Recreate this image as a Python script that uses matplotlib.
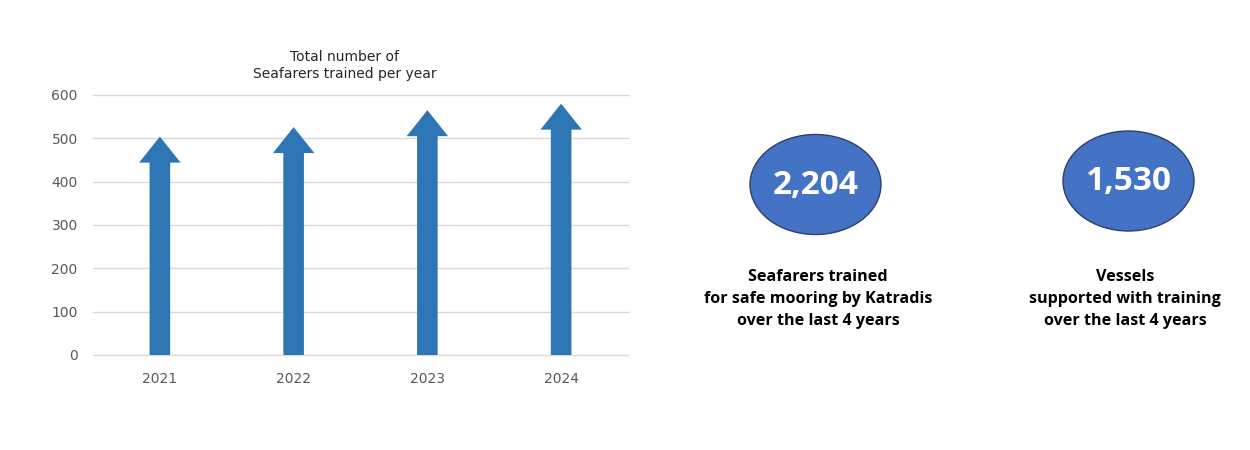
import matplotlib.pyplot as plt
from matplotlib.patches import Ellipse

# data
years = ["2021", "2022", "2023", "2024"]
seafarers = [504, 526, 565, 580]
kpi_values = ["2,204", "1,530"]
kpi_labels = [
    "Seafarers trained\nfor safe mooring by Katradis\nover the last 4 years",
    "Vessels\nsupported with training\nover the last 4 years",
]

W, H = 1250, 450
fig = plt.figure(figsize=(W / 100, H / 100), dpi=100)

# arrow chart
ax = fig.add_axes([93 / W, 95 / H, 535 / W, 260 / H])
ax.set_xlim(-0.5, len(years) - 0.5)
ax.set_ylim(0, 600)
ax.set_yticks(range(0, 601, 100))
ax.set_xticks(range(len(years)))
ax.set_xticklabels(years)
ax.grid(axis="y", color="#d9d9d9", lw=1)
for gl in ax.get_ygridlines():
    gl.set_clip_on(False)
ax.set_axisbelow(True)
for s in ax.spines.values():
    s.set_visible(False)
ax.tick_params(length=0, colors="#595959", labelsize=10)
ax.tick_params(axis="y", pad=11)
ax.tick_params(axis="x", pad=12)

for i, v in enumerate(seafarers):
    ax.arrow(i, 0, 0, v, width=0.154, head_width=0.31, head_length=60,
             length_includes_head=True, color="#2e75b6", lw=0, zorder=3)

ax.set_title("Total number of\nSeafarers trained per year", fontsize=10,
             color="#262626", pad=12, linespacing=1.3, x=0.47)

# KPI bubbles on an overlay in pixel coordinates
ov = fig.add_axes([0, 0, 1, 1])
ov.set_xlim(0, W)
ov.set_ylim(H, 0)
ov.axis("off")

centers = [(815.5, 184.5), (1128.5, 181)]
label_x = [818, 1125]
for (cx, cy), val, lx, lab in zip(centers, kpi_values, label_x, kpi_labels):
    ov.add_patch(Ellipse((cx, cy), 131, 100, facecolor="#4472c4",
                         edgecolor="#2f3f6f", lw=1))
    ov.text(cx, cy + 1, val, ha="center", va="center", color="white",
            fontsize=24, fontweight="bold", family="Open Sans")
    ov.text(lx, 299, lab, ha="center", va="center", color="black",
            fontsize=11.6, fontweight="bold", family="Open Sans", linespacing=1.5)

fig.savefig("out.png", dpi=100)
